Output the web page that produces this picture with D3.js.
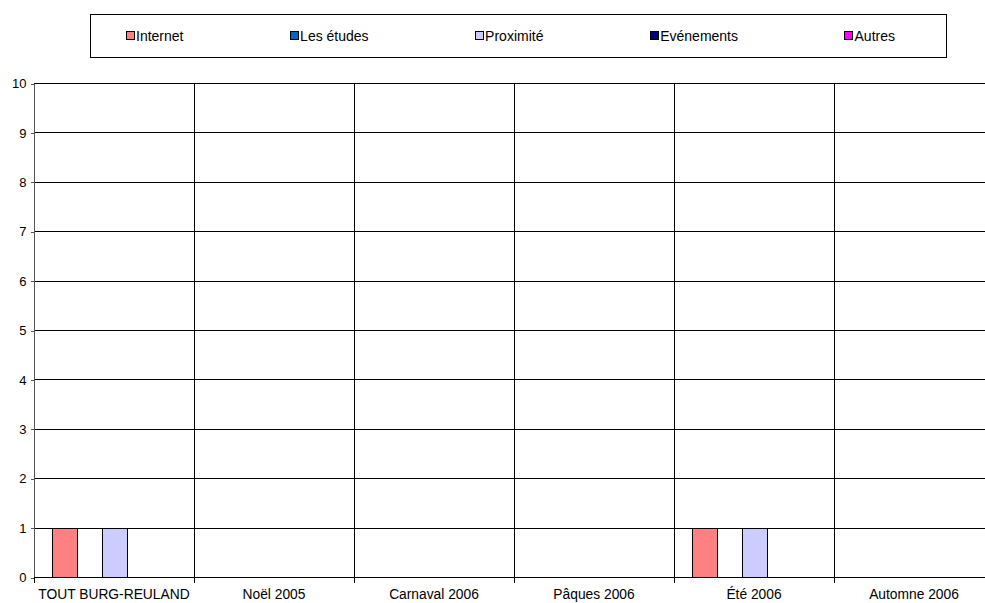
<!DOCTYPE html>
<html>
<head>
<meta charset="utf-8">
<script src="https://cdn.jsdelivr.net/npm/d3@7"></script>
<style>
  body { margin: 0; background: #fff; }
  svg { display: block; font-family: "Liberation Sans", Arial, sans-serif; }
</style>
</head>
<body>
<svg class="main" width="985" height="603"></svg>
<script>
var CATEGORIES = ["TOUT BURG-REULAND", "Noël 2005", "Carnaval 2006", "Pâques 2006", "Été 2006", "Automne 2006"];
var SERIES = ["Internet", "Les études", "Proximité", "Evénements", "Autres"];
var COLORS = ["#FF8080", "#0066CC", "#CCCCFF", "#000080", "#FF00FF"];
var INTERNET = [1, 0, 0, 0, 1, 0];
var ETUDES = [0, 0, 0, 0, 0, 0];
var PROXIMITE = [1, 0, 0, 0, 1, 0];
var EVENEMENTS = [0, 0, 0, 0, 0, 0];
var AUTRES = [0, 0, 0, 0, 0, 0];
var Y_TICKS = [0, 1, 2, 3, 4, 5, 6, 7, 8, 9, 10];

var VALUES = [INTERNET, ETUDES, PROXIMITE, EVENEMENTS, AUTRES];

var W = 985, H = 603;
var plot = { left: 34, right: 994, top: 83, bottom: 577 };

var svg = d3.select("svg.main");

var x = d3.scaleBand().domain(CATEGORIES).range([plot.left, plot.right]).padding(0);
var xs = d3.scaleBand().domain(SERIES).range([0, x.bandwidth()]).paddingInner(0).paddingOuter(0.7);
var y = d3.scaleLinear().domain([0, 10]).range([plot.bottom, plot.top]);
var color = d3.scaleOrdinal().domain(SERIES).range(COLORS);

// grid lines
var grid = svg.append("g").attr("shape-rendering", "crispEdges");
grid.selectAll("line.h")
  .data(Y_TICKS.filter(function(d) { return d > 0; }))
  .enter().append("line")
  .attr("x1", plot.left).attr("x2", W)
  .attr("y1", function(d) { return Math.round(y(d)) + 0.5; })
  .attr("y2", function(d) { return Math.round(y(d)) + 0.5; })
  .attr("stroke", "#000").attr("stroke-width", 1);

grid.selectAll("line.v")
  .data(CATEGORIES.slice(1))
  .enter().append("line")
  .attr("x1", function(d) { return Math.round(x(d)) + 0.5; })
  .attr("x2", function(d) { return Math.round(x(d)) + 0.5; })
  .attr("y1", plot.top).attr("y2", plot.bottom)
  .attr("stroke", "#000").attr("stroke-width", 1);

// bars
var rows = [];
CATEGORIES.forEach(function(c, i) {
  SERIES.forEach(function(s, j) {
    rows.push({ cat: c, series: s, value: VALUES[j][i] });
  });
});

svg.append("g").attr("shape-rendering", "crispEdges")
  .selectAll("rect")
  .data(rows.filter(function(d) { return d.value > 0; }))
  .enter().append("rect")
  .attr("x", function(d) { return Math.round(x(d.cat) + xs(d.series)) + 0.5; })
  .attr("y", function(d) { return Math.round(y(d.value)) + 0.5; })
  .attr("width", Math.round(xs.bandwidth()))
  .attr("height", function(d) { return Math.round(y(0)) - Math.round(y(d.value)); })
  .attr("fill", function(d) { return color(d.series); })
  .attr("stroke", "#000").attr("stroke-width", 1);

// y axis
var yAxis = svg.append("g")
  .attr("transform", "translate(" + (plot.left + 0.5) + ",0.5)")
  .call(d3.axisLeft(y).tickValues(Y_TICKS).tickSize(4).tickSizeOuter(0).tickPadding(4));
yAxis.selectAll("text").style("font-size", "13px").attr("fill", "#000")
  .attr("font-family", "Liberation Sans, Arial, sans-serif");
yAxis.selectAll("line, path").attr("stroke", "#555").attr("shape-rendering", "crispEdges");
yAxis.select("path.domain").attr("d", "M0," + plot.top + "V" + plot.bottom);

// x axis
var xAxis = svg.append("g")
  .attr("transform", "translate(0," + (plot.bottom + 0.5) + ")")
  .call(d3.axisBottom(x).tickSize(0).tickPadding(12));
xAxis.select("path.domain").attr("d", "M" + plot.left + ",0H" + W)
  .attr("stroke", "#000").attr("shape-rendering", "crispEdges");
xAxis.selectAll("text").style("font-size", "13.8px").attr("fill", "#000")
  .attr("font-family", "Liberation Sans, Arial, sans-serif");
xAxis.selectAll(".sep")
  .data(CATEGORIES)
  .enter().append("line")
  .attr("x1", function(d) { return Math.round(x(d)) + 0.5; })
  .attr("x2", function(d) { return Math.round(x(d)) + 0.5; })
  .attr("y1", 0).attr("y2", 5)
  .attr("stroke", "#000").attr("shape-rendering", "crispEdges");

// legend
var legendBox = { x: 90, y: 14, w: 856, h: 43 };
var legend = svg.append("g");
legend.append("rect")
  .attr("x", legendBox.x + 0.5).attr("y", legendBox.y + 0.5)
  .attr("width", legendBox.w).attr("height", legendBox.h)
  .attr("fill", "#fff").attr("stroke", "#000").attr("shape-rendering", "crispEdges");

var items = legend.selectAll("g.item")
  .data(SERIES)
  .enter().append("g").attr("class", "item");
items.append("rect")
  .attr("width", 8).attr("height", 8)
  .attr("y", -4.5)
  .attr("fill", function(d) { return color(d); })
  .attr("stroke", "#000").attr("shape-rendering", "crispEdges");
items.append("text")
  .attr("x", 10)
  .attr("dy", "0.35em")
  .style("font-size", "14px")
  .text(function(d) { return d; });

// spread entries with equal gaps
var widths = [];
items.each(function() { widths.push(this.getBBox().width); });
var innerLeft = 126, innerRight = 895;
var gap = (innerRight - innerLeft - d3.sum(widths)) / (widths.length - 1);
var cx = innerLeft;
items.attr("transform", function(d, i) {
  var t = "translate(" + cx + "," + (legendBox.y + legendBox.h / 2 + 0.5) + ")";
  cx += widths[i] + gap;
  return t;
});
</script>
</body>
</html>
